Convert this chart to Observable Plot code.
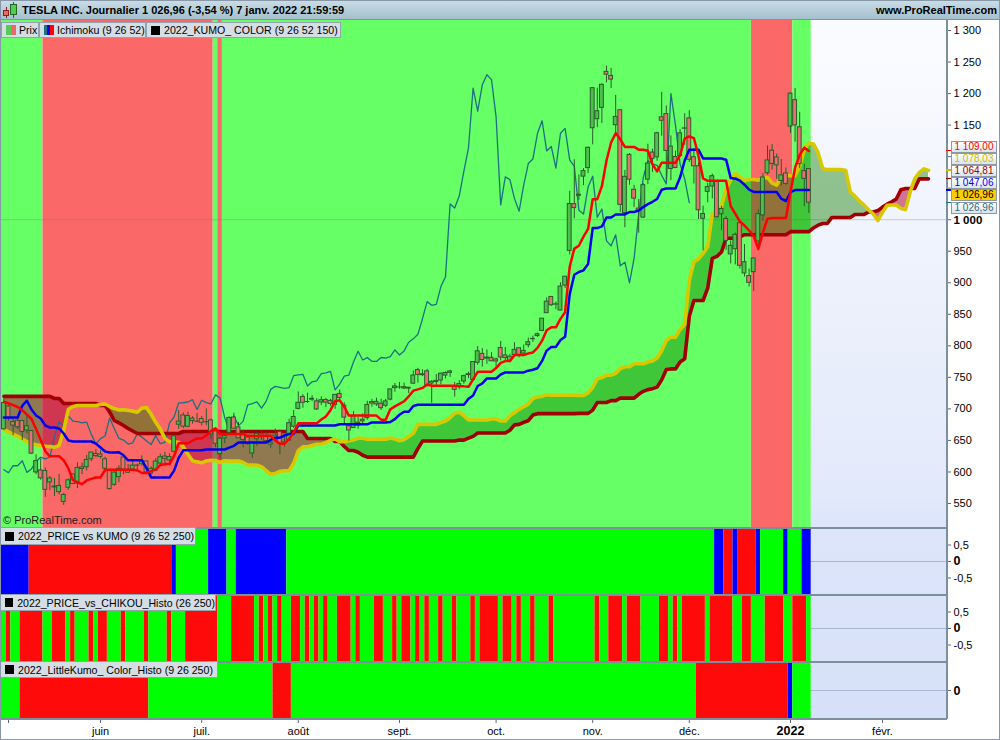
<!DOCTYPE html>
<html><head><meta charset="utf-8">
<script src="https://cdn.jsdelivr.net/npm/d3@7"></script>
<script src="https://cdn.jsdelivr.net/npm/@observablehq/plot@0.6"></script>
<style>
html,body{margin:0;padding:0;background:#fff;}
#root{position:relative;width:1000px;height:740px;overflow:hidden;background:#fff;font-family:"Liberation Sans",Arial,sans-serif;color:#000;}
#root .a{position:absolute;}
.lg{height:16px;background:#D6DEE5;border:1px solid #95A2AE;box-sizing:border-box;font-size:10.6px;white-space:nowrap;color:#000;display:flex;align-items:center;}
.sq{display:inline-block;width:9px;height:9px;background:#000;margin:0 4px 0 4px;}
.pbox{width:46px;height:12.2px;box-sizing:border-box;border:1px solid #8C9AA8;background:linear-gradient(#FFFFFF,#DCE3EC);font-size:10px;line-height:10px;display:flex;align-items:center;justify-content:center;white-space:nowrap;overflow:hidden;}
svg{display:block;}
</style></head>
<body><div id="root"></div>
<script>
// ---------------- DATA (TSLA daily, 30 avr. 2021 -> 7 janv. 2022) ----------------
const opens = [667.59,
703.80,678.94,681.06,680.76,665.80,664.90,599.24,602.49,601.54,583.41,575.55,568.00,552.55,575.00,596.11,581.60,607.31,607.56,620.24,628.50,
627.80,620.13,601.80,579.71,591.83,623.01,602.17,603.88,610.23,612.23,616.69,597.54,601.89,613.37,624.48,618.25,632.00,674.99,689.58,671.64,684.65,679.77,
683.92,678.98,681.71,664.27,628.37,653.18,662.20,686.32,670.75,658.39,654.68,629.29,651.99,659.61,656.44,646.36,650.97,663.40,647.00,649.79,671.76,
700.00,719.00,711.00,716.00,711.90,710.17,713.99,712.71,706.34,723.71,705.07,672.66,669.75,678.21,682.85,685.44,710.68,707.03,708.31,705.00,714.72,733.00,
734.08,734.50,732.25,740.00,761.58,753.41,759.60,740.21,742.57,745.00,752.83,757.15,734.56,734.79,743.53,755.00,745.89,773.12,787.20,779.80,781.00,
778.40,796.50,784.80,776.20,785.46,796.21,787.65,800.93,810.47,815.49,823.73,851.77,877.53,865.35,856.00,895.50,950.53,1024.69,1039.66,1068.31,1081.86,
1145.00,1159.36,1177.33,1234.41,1228.00,1149.79,1173.60,1010.41,1102.77,1047.50,1017.63,1003.31,1063.51,1106.55,1098.87,1162.33,1167.51,1080.39,1099.47,1100.99,1144.37,
1160.70,1099.06,1084.79,1001.51,1044.20,1052.71,1060.64,1008.75,1001.09,945.00,953.21,994.50,914.77,910.70,916.87,965.66,1006.80,1073.67,1109.49,1098.64,1061.33,1073.44,
1147.75,1189.55,1146.65,1077.00,1080.37];
const highs = [715.47,
706.00,683.45,685.30,681.02,690.00,665.05,627.10,620.41,606.46,592.87,589.73,596.25,566.21,588.85,596.68,614.48,613.99,626.17,631.13,635.59,
633.80,623.36,604.55,600.61,610.00,623.09,611.79,616.59,612.56,625.49,616.79,608.50,621.47,628.35,631.39,628.57,657.20,697.62,693.81,694.70,687.51,692.81,
687.99,700.00,684.00,665.70,654.43,658.91,687.24,693.28,678.61,666.14,656.70,647.20,662.39,664.86,662.17,648.80,668.20,666.50,654.97,683.69,697.53,
726.94,722.65,724.90,720.95,716.33,719.03,716.59,715.18,722.80,729.90,709.50,674.58,695.77,686.55,692.13,712.13,715.22,716.97,715.40,715.00,731.00,740.39,
741.99,740.97,734.00,760.20,764.45,762.10,762.61,744.78,754.47,756.86,758.91,761.04,742.00,744.74,753.67,758.20,774.80,799.00,795.64,793.50,789.13,
780.78,806.97,797.31,786.66,805.00,796.38,801.24,812.32,815.41,820.25,843.21,876.00,877.95,869.49,900.00,910.00,1045.02,1094.94,1070.88,1081.00,1115.21,
1209.75,1208.59,1215.39,1243.49,1239.87,1197.00,1174.50,1078.10,1104.97,1054.50,1031.98,1057.20,1119.64,1112.00,1138.72,1201.95,1180.50,1132.77,1108.78,1142.67,1168.00,
1172.84,1113.00,1090.58,1021.64,1057.67,1072.38,1062.49,1020.98,1005.00,966.41,978.75,994.98,960.66,921.69,939.50,1015.66,1072.98,1117.00,1119.00,1104.00,1095.55,1082.00,
1201.07,1208.00,1170.34,1088.00,1080.93];
const lows = [666.14,
680.50,657.70,667.34,650.00,660.22,627.61,595.60,586.77,559.65,570.46,561.20,563.38,546.98,571.07,580.00,573.65,595.71,601.50,616.21,622.38,
620.55,599.14,571.22,577.20,582.88,595.50,597.63,600.50,601.52,609.18,598.23,593.50,601.34,611.80,608.88,615.50,630.04,667.61,668.70,670.32,675.89,678.14,
672.80,673.26,651.40,638.32,620.46,644.69,662.16,666.30,652.84,637.88,642.20,621.29,640.50,650.29,644.60,637.30,647.11,627.24,639.40,648.80,669.00,
698.40,701.01,708.93,711.41,697.63,705.13,701.88,704.21,699.40,714.34,676.40,648.84,669.35,667.59,673.70,682.20,702.64,704.00,697.62,702.10,712.73,726.44,
731.27,730.54,724.20,739.26,740.77,751.63,734.52,708.85,736.40,738.36,747.61,750.00,718.62,730.44,739.12,747.92,744.56,769.31,766.18,770.68,775.00,
763.59,776.12,774.20,773.22,783.38,780.91,785.50,796.57,805.78,813.35,822.35,851.47,862.51,857.38,855.50,890.96,944.20,1001.44,1030.78,1054.20,1073.21,
1118.66,1146.00,1152.62,1217.00,1208.00,1133.00,1011.52,987.31,1054.68,1019.20,978.60,1002.18,1055.50,1075.02,1092.70,1132.43,1062.70,1062.00,1081.00,1100.19,1118.00,
1090.76,1056.65,1000.21,950.50,1026.81,1033.00,1002.36,982.53,951.42,930.00,928.25,921.85,909.04,893.39,886.12,957.05,997.56,1070.72,1078.42,1064.14,1053.15,1054.59,
1136.72,1123.05,1081.01,1020.50,1010.00];
const closes = [709.44,
684.90,673.60,670.94,663.54,672.37,629.04,617.20,589.89,571.69,589.74,576.83,577.87,563.46,586.78,580.88,606.44,604.69,619.13,630.85,625.22,
623.90,605.12,572.84,599.05,605.13,603.59,598.78,610.12,609.89,617.69,599.36,604.87,616.60,623.31,620.83,623.71,656.57,679.82,671.87,688.72,680.76,679.70,
677.92,678.90,659.58,644.65,652.81,656.95,685.70,668.54,653.38,650.60,644.22,646.22,660.50,655.29,649.26,643.38,657.62,644.78,646.98,677.35,687.20,
709.67,709.74,710.92,714.63,699.10,713.76,709.99,707.82,722.25,717.17,686.17,665.71,688.99,673.47,680.26,706.30,708.49,711.20,701.16,711.92,730.91,735.72,
734.09,732.39,733.57,752.92,753.87,754.86,736.27,743.00,744.49,755.83,756.99,759.49,730.17,739.38,751.94,753.64,774.39,791.36,777.56,781.31,775.48,
775.22,781.53,780.59,782.75,793.61,785.49,791.94,805.72,811.08,818.32,843.03,870.11,864.27,865.80,894.00,909.68,1024.86,1018.43,1037.86,1077.04,1114.00,
1208.59,1172.00,1213.86,1229.91,1222.09,1162.94,1023.50,1067.95,1063.51,1033.42,1013.39,1054.73,1089.01,1096.38,1137.06,1156.87,1109.03,1116.00,1081.92,1136.99,1144.76,
1095.00,1084.60,1014.97,1009.01,1051.75,1068.96,1003.80,1017.03,966.41,958.51,975.99,926.92,932.57,899.94,938.53,1008.87,1067.00,1093.94,1088.47,1086.19,1070.34,1056.78,
1199.78,1149.59,1088.12,1064.70,1026.96];

// Ichimoku values at the left edge (depend on bars before the window)
const preTenkan = [711, 709, 706, 703, 698, 691, 684, 668];
const preKijun = [686.4,686.4,686.4,686.4,705,713,699,689.6,684.8,673.7,670.5,670.5,669,661,650,648.3,648.3,648.3,648.3,648.3,645,638.8,632.4,630.9,630.9];
const preSSA = [667.9,663.4,659.8,656.6,652.3,648.3,644.8,643.2,642,640.9,640.4,639.1,642,665.8,699,703.8,705.4,705.4,705.4,705.4,705.4,707,707.8,703.8,700.6,698.3];
const preSSB = [719.9,719.9,719.9,719.9,719.9,719.9,719.9,719.9,719.9,719.9,719.9,716.5,716.5,
708.6,708.6,708.6,708.6,708.6,708.6,708.6,708.6,705.4,705.4,695,681.6,678,673.7,669,665,
661,661,661,661,661,661,661,661,661,661,
664.2,664.2,664.2,664.2,664.2,664.2,664.2,664.2,664.2,664.2,664.2,664.2,664.2,664.2,664.2,664.2,664.2,664.2,664.2,664.2,664.2,664.2,664.2,664.2,664.2,664.2,664.2,
653.1,653.1,653.1,653.1,653.1,653.1,648.3,648.3,640.4,634,634];

// Background (KUMO COLOR) runs: first bar of each run and its colour
const bgStart = [0, 9, 46, 47, 48, 163, 172];
const bgState = ["G","R","G","R","G","R","G"];
// 2022_PRICE vs KUMO
const kumoStart = [0,6,37,38,45,49,51,62,155,157,159,160,164,165,170,171,174];
const kumoState = ["B","R","B","G","B","G","B","G","B","R","B","R","B","G","B","G","B"];
// 2022_PRICE_vs_CHIKOU_Histo (alternating G / R runs, starting with G)
const chikStart = [0,1,2,4,9,11,14,15,16,19,20,21,23,26,27,31,32,36,37,40,47,50,55,56,57,58,59,60,61,63,65,66,67,68,69,70,71,73,76,77,78,81,83,85,86,87,89,90,91,92,93,95,96,98,99,102,103,104,108,109,111,112,113,115,116,119,120,129,130,132,135,136,139,143,145,146,147,148,153,154,159,161,163,166,170,172,175];
const chikState = chikStart.map((s, i) => i % 2 === 0 ? "G" : "R");
// 2022_LittleKumo_ Color_Histo
const littleStart = [0,4,32,59,63,151,171,172];
const littleState = ["G","R","G","R","G","R","B","G"];

// Axis ticks (1 050 and 1 100 labels are hidden behind the value boxes in the chart)
const monthBars = [1,21,43,64,86,107,128,149,171,191];
const monthLabels = ["","juin","juil.","août","sept.","oct.","nov.","déc.","2022","févr."];
const priceTicks = [550,600,650,700,750,800,850,900,950,1000,1050,1100,1150,1200,1250,1300];
const hiddenPriceLabels = [1000, 1050, 1100];

// ---------------- BUILD ----------------
const N = closes.length, SHIFT = 26;
const X0 = -0.739, X1 = 204.913;
const FONT = '"Liberation Sans", Arial, sans-serif';
const root = document.getElementById("root");

function el(tag, css, html) {
  const e = document.createElement(tag);
  e.className = "a";
  Object.assign(e.style, css);
  if (html !== undefined) e.innerHTML = html;
  root.appendChild(e);
  return e;
}
const px = v => v + "px";

const candles = d3.range(N).map(k => ({k, o: opens[k], h: highs[k], l: lows[k], c: closes[k]}));
const midHL = (a, b) => (d3.max(highs.slice(a, b + 1)) + d3.min(lows.slice(a, b + 1))) / 2;
const tenkan = d3.range(N).map(k => k < preTenkan.length ? preTenkan[k] : midHL(k - 8, k));
const kijun = d3.range(N).map(k => k < preKijun.length ? preKijun[k] : midHL(k - 25, k));
const cloud = d3.range(N + SHIFT).map(k => ({
  k,
  a: k < preSSA.length ? preSSA[k] : (tenkan[k - SHIFT] + kijun[k - SHIFT]) / 2,
  b: k < preSSB.length ? preSSB[k] : midHL(k - 77, k - 26)
}));
const tenkanD = tenkan.map((v, k) => ({k, v}));
const kijunD = kijun.map((v, k) => ({k, v}));

function runsOf(starts, states, end) {
  return starts.map((s, i) => ({s, e: (i + 1 < starts.length ? starts[i + 1] : end) - 1, st: states[i]}));
}
const fmtAxis = d => d >= 1000 ? Math.floor(d / 1000) + " " + String(d % 1000).padStart(3, "0") : String(d);
const fmtPrice = v => {
  const r = (Math.round(v * 100 + 1e-6) / 100).toFixed(2);
  const [i, f] = r.split(".");
  return (i.length > 3 ? i.slice(0, i.length - 3) + " " + i.slice(-3) : i) + "," + f;
};

// future (projected) zone background, behind all panels
const xs = d3.scaleLinear().domain([X0, X1]).range([0, 946]);
el("div", {left: px(xs(N - 0.5)), top: "20px", width: px(946 - xs(N - 0.5)), height: "699px",
  background: "linear-gradient(#FBFCFF 0%, #EEF2FC 35%, #E2E9FA 68%, #DCE5FA 72%, #D6E0F8 100%)"});

const base = {width: 1000, marginLeft: 0, marginRight: 54, marginTop: 0, marginBottom: 0,
  x: {domain: [X0, X1], axis: null},
  style: {background: "transparent", fontSize: "11px", fontFamily: FONT, overflow: "visible"}};

// ---- main price panel ----
const bgRuns = runsOf(bgStart, bgState, N);
const main = Plot.plot({
  ...base, height: 507,
  y: {domain: [511.95, 1315.86], axis: null},
  marks: [
    Plot.rect(bgRuns, {x1: d => d.s === 0 ? X0 : d.s - 0.5, x2: d => d.e + 0.5, fill: d => d.st === "R" ? "#FA6868" : "#66FF66"}),
    Plot.ruleY([1000], {stroke: "#6F8090", strokeOpacity: 0.35}),
    Plot.areaY(cloud, {x: "k", y1: "b", y2: d => Math.max(d.a, d.b), fill: "#108000", fillOpacity: 0.44}),
    Plot.areaY(cloud, {x: "k", y1: "a", y2: d => Math.max(d.a, d.b), fill: "#B01040", fillOpacity: 0.56}),
    Plot.line(candles.slice(SHIFT), {x: d => d.k - SHIFT, y: "c", stroke: "#1C7080", strokeWidth: 1.3}),
    Plot.line(cloud, {x: "k", y: "b", stroke: "#A00000", strokeWidth: 3.6}),
    Plot.line(cloud, {x: "k", y: "a", stroke: "#D8C800", strokeWidth: 3.6}),
    Plot.ruleX(candles, {x: "k", y1: "l", y2: "h", stroke: "#2C5A2C", strokeWidth: 1}),
    Plot.rect(candles, {x1: d => d.k - 0.42, x2: d => d.k + 0.42, y1: "o", y2: "c",
      fill: d => d.c >= d.o ? "#4CBF4C" : "#E87070", stroke: "#2C5A2C", strokeWidth: 1}),
    Plot.line(kijunD, {x: "k", y: "v", stroke: "#0000F0", strokeWidth: 2.5}),
    Plot.line(tenkanD, {x: "k", y: "v", stroke: "#FF0000", strokeWidth: 2.5}),
    Plot.axisY(priceTicks, {anchor: "right", tickSize: 4, tickPadding: 3, stroke: "#5A6A7A",
      tickFormat: d => hiddenPriceLabels.includes(d) ? "" : fmtAxis(d)}),
    Plot.text([1000], {x: X1, y: d => d, text: () => "1 000", dx: 7, dy: 1, textAnchor: "start", fontWeight: "bold", fontSize: 11.5})
  ]
});
const mainWrap = el("div", {left: "0px", top: "20px", width: "1000px", height: "507px"});
mainWrap.appendChild(main);
const ys = main.scale("y");

// ---- indicator panels ----
const panelColors = {G: "#00FF00", R: "#FF0A0A", B: "#0000FF"};
function panel(top, h, starts, states, ydom, ticks) {
  const runs = runsOf(starts, states, N);
  const chart = Plot.plot({
    ...base, height: h,
    y: {domain: ydom, axis: null},
    marks: [
      Plot.ruleY([0], {stroke: "#A9B9D2"}),
      Plot.rect(runs, {x1: d => d.s === 0 ? X0 : d.s - 0.5, x2: d => d.e + 0.5, fill: d => panelColors[d.st]}),
      Plot.axisY(ticks, {anchor: "right", tickSize: 4, tickPadding: 3, stroke: "#5A6A7A",
        tickFormat: d => d === 0 ? "" : String(d).replace(".", ",")}),
      Plot.text([0], {x: X1, y: 0, text: () => "0", dx: 7, textAnchor: "start", fontWeight: "bold", fontSize: 12.5})
    ]
  });
  const w = el("div", {left: "0px", top: px(top), width: "1000px", height: px(h)});
  w.appendChild(chart);
}
panel(527, 67, kumoStart, kumoState, [-1, 1.03], [-0.5, 0, 0.5]);
panel(594, 67, chikStart, chikState, [-1, 1.03], [-0.5, 0, 0.5]);
panel(661, 58, littleStart, littleState, [-1, 1], [0]);

// ---- time axis ----
const ax = Plot.plot({
  ...base, height: 21,
  y: {domain: [0, 21], range: [0, 21], axis: null},
  marks: [
    Plot.ruleX(monthBars, {x: d => d, y1: 0, y2: 4, stroke: "#5A6A7A"}),
    Plot.text(monthBars.filter((d, i) => monthLabels[i] !== "2022"), {x: d => d, y: 11.5,
      text: d => monthLabels[monthBars.indexOf(d)], fontSize: 11}),
    Plot.text(monthBars.filter((d, i) => monthLabels[i] === "2022"), {x: d => d, y: 11.5,
      text: d => monthLabels[monthBars.indexOf(d)], fontSize: 12.5, fontWeight: "bold"})
  ]
});
const axWrap = el("div", {left: "0px", top: "719px", width: "1000px", height: "21px"});
axWrap.appendChild(ax);

// ---- separators & frame ----
[527, 594, 661, 718].forEach(y => el("div", {left: "0px", top: px(y), width: "947px", height: "1.5px", background: "#7D8E9C"}));
el("div", {left: "946px", top: "20px", width: "1.5px", height: "699px", background: "#7D8E9C"});

// ---- title bar ----
el("div", {left: "0px", top: "0px", width: "1000px", height: "20px", background: "linear-gradient(#CADDE7,#A5C0CE)", borderBottom: "1px solid #7C94A3", boxSizing: "border-box"});
el("div", {left: "6px", top: "7px", width: "1px", height: "11px", background: "#8A2020"});
el("div", {left: "3px", top: "10px", width: "6px", height: "6px", background: "#E86A6A", border: "1px solid #8A2020", boxSizing: "border-box"});
el("div", {left: "13px", top: "2px", width: "1px", height: "16px", background: "#1E6A1E"});
el("div", {left: "10px", top: "4px", width: "7px", height: "11px", background: "#55CC55", border: "1px solid #1E6A1E", boxSizing: "border-box"});
el("div", {left: "22px", top: "0px", height: "20px", lineHeight: "20px", fontSize: "11px", fontWeight: "bold", whiteSpace: "nowrap"},
  "TESLA INC. Journalier 1 026,96 (-3,54 %) 7 janv. 2022 21:59:59");
el("div", {right: "3px", top: "0px", height: "20px", lineHeight: "20px", fontSize: "11px", fontWeight: "bold", whiteSpace: "nowrap"},
  "www.ProRealTime.com");

// ---- legends ----
function legend(left, top, width, height, icon, text) {
  const d = el("div", {left: px(left), top: px(top), width: px(width), height: px(height)}, icon + "<span>" + text + "</span>");
  d.classList.add("lg");
  return d;
}
legend(1, 22, 38, 16, '<span style="display:inline-block;width:5px;height:10px;background:#55CC55;margin-left:4px"></span><span style="display:inline-block;width:5px;height:10px;background:#E86A6A;margin-right:3px"></span>', "Prix");
legend(39, 22, 107, 16, '<span style="display:inline-block;width:3px;height:10px;background:#1C7482;margin-left:4px"></span><span style="display:inline-block;width:3px;height:10px;background:#0000F0"></span><span style="display:inline-block;width:4px;height:10px;background:#FF0000;margin-right:3px"></span>', "Ichimoku (9 26 52)");
legend(146, 22, 195, 16, '<span class="sq"></span>', "2022_KUMO_ COLOR (9 26 52 150)");
legend(0, 527, 196, 18, '<span class="sq"></span>', "2022_PRICE vs KUMO (9 26 52 250)");
legend(0, 594, 216, 17, '<span class="sq"></span>', "2022_PRICE_vs_CHIKOU_Histo (26 250)");
legend(0, 661, 218, 17, '<span class="sq"></span>', "2022_LittleKumo_ Color_Histo (9 26 250)");

el("div", {left: "3px", top: "514px", fontSize: "11px", color: "#222", whiteSpace: "nowrap"}, "© ProRealTime.com");

// ---- last-value boxes on the price axis (stacked so none hides another) ----
const last = N - 1, lastCloud = cloud[N + SHIFT - 1];
const boxes = [
  {v: tenkan[last], color: "#FF0000", bg: null},
  {v: lastCloud.a, color: "#CDBD00", bg: null},
  {v: lastCloud.b, color: "#A00000", bg: null},
  {v: kijun[last], color: "#0000F0", bg: null},
  {v: closes[last], color: "#000", bg: "#FFCC00"},
  {v: closes[last], color: "#1C7080", bg: null}
];
let topY = 140.5;
boxes.forEach(b => {
  const cy = 20 + ys.apply(b.v);
  el("div", {left: "946px", top: px(cy - 0.5), width: "5px", height: "1.5px", background: b.color});
  const d = el("div", {left: "951px", top: px(topY), color: b.color}, fmtPrice(b.v));
  d.classList.add("pbox");
  if (b.bg) d.style.background = b.bg;
  topY += 12.2;
});

// outer frame
el("div", {left: "0px", top: "0px", width: "1000px", height: "740px", border: "1px solid #8898A8", boxSizing: "border-box", pointerEvents: "none"});
</script></body></html>
